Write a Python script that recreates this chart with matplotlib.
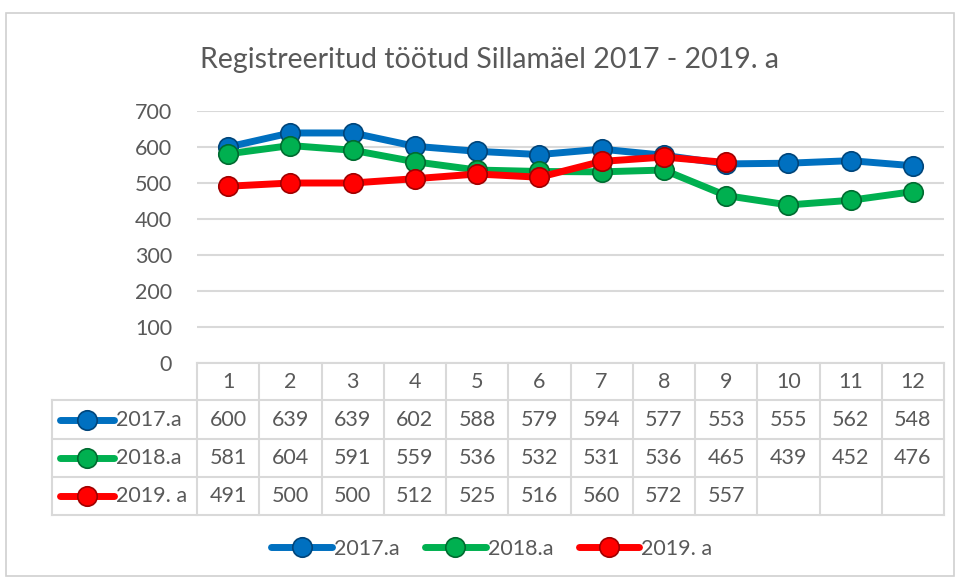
import matplotlib
matplotlib.use("Agg")
from matplotlib import pyplot as plt
from matplotlib.lines import Line2D
from matplotlib.patches import Rectangle

months = [1, 2, 3, 4, 5, 6, 7, 8, 9, 10, 11, 12]
y2017 = [600, 639, 639, 602, 588, 579, 594, 577, 553, 555, 562, 548]
y2018 = [581, 604, 591, 559, 536, 532, 531, 536, 465, 439, 452, 476]
y2019 = [491, 500, 500, 512, 525, 516, 560, 572, 557]
names = ["2017.a", "2018.a", "2019. a"]
colors = ["#0070C0", "#00B050", "#FF0000"]
edges = ["#00457a", "#006b30", "#a00000"]
yticks = [0, 100, 200, 300, 400, 500, 600, 700]

plt.rcParams['font.family'] = ['Lato', 'DejaVu Sans']
txt = "#595959"
grid = "#d9d9d9"
fs = 15.5

W, H = 960, 580
fig = plt.figure(figsize=(9.6, 5.8), dpi=100)

def fx(px):
	return px / W

def fy(py):
	return 1 - py / H

# chart border
fig.patches.append(Rectangle((fx(6), fy(576)), fx(948), 563 / H, transform=fig.transFigure,
	fill=False, edgecolor="#d0d0d0", linewidth=1.2))

x0, x1, ytop, ybot = 197, 944, 111, 363
ax = fig.add_axes([fx(x0), fy(ybot), fx(x1 - x0), (ybot - ytop) / H])
ax.set_xlim(0.5, 12.5)
ax.set_ylim(0, 700)
ax.set_yticks(yticks)
ax.set_xticks([])
ax.tick_params(axis='y', length=0, labelsize=fs, labelcolor=txt, pad=18)
for s in ax.spines.values():
	s.set_visible(False)
ax.grid(axis='y', color=grid, linewidth=1.5)
ax.set_axisbelow(True)

series = [y2017, y2018, y2019]
for vals, c, e in zip(series, colors, edges):
	ax.plot(months[:len(vals)], vals, color=c, linewidth=5, marker='o', markersize=14,
		markerfacecolor=c, markeredgecolor=e, markeredgewidth=1.2, solid_capstyle='round', zorder=3)

fig.text(fx(490), fy(60), "Registreeritud töötud Sillamäel 2017 - 2019. a", ha='center', va='center',
	fontsize=20.5, color=txt)

# data table
cw = (x1 - x0) / 12
rows = [363, 400, 439, 477, 515]
lw = 1.5
def hline(xa, xb, py):
	fig.add_artist(Line2D([fx(xa), fx(xb)], [fy(py), fy(py)], color=grid, linewidth=lw))
def vline(px, ya, yb):
	fig.add_artist(Line2D([fx(px), fx(px)], [fy(ya), fy(yb)], color=grid, linewidth=lw))

hline(x0, x1, rows[0])
for py in rows[1:]:
	hline(52, x1, py)
for k in range(13):
	vline(x0 + k * cw, rows[0], rows[-1])
vline(52, rows[1], rows[-1])

for i, m in enumerate(months):
	fig.text(fx(x0 + (i + 0.5) * cw), fy((rows[0] + rows[1]) / 2), str(m), ha='center', va='center',
		fontsize=fs, color=txt)
for r, (vals, c, e, n) in enumerate(zip(series, colors, edges, names)):
	yc = fy((rows[r + 1] + rows[r + 2]) / 2)
	for i, v in enumerate(vals):
		fig.text(fx(x0 + (i + 0.5) * cw), yc, str(v), ha='center', va='center', fontsize=fs, color=txt)
	fig.add_artist(Line2D([fx(60), fx(114)], [yc, yc], color=c, linewidth=5, solid_capstyle='round'))
	fig.add_artist(Line2D([fx(87)], [yc], marker='o', markersize=14, markerfacecolor=c,
		markeredgecolor=e, markeredgewidth=1.2))
	fig.text(fx(116), yc, n, ha='left', va='center', fontsize=fs, color=txt)

# legend
h = [Line2D([], [], color=c, linewidth=5, marker='o', markersize=14, markerfacecolor=c,
	markeredgecolor=e, markeredgewidth=1.2, solid_capstyle='round') for c, e in zip(colors, edges)]
fig.legend(h, names, loc='center', bbox_to_anchor=(fx(492), fy(549)), ncol=3, frameon=False,
	fontsize=fs, labelcolor=txt, handlelength=2.8, handletextpad=0.1, columnspacing=1.2)

fig.savefig("out.png", dpi=100)
